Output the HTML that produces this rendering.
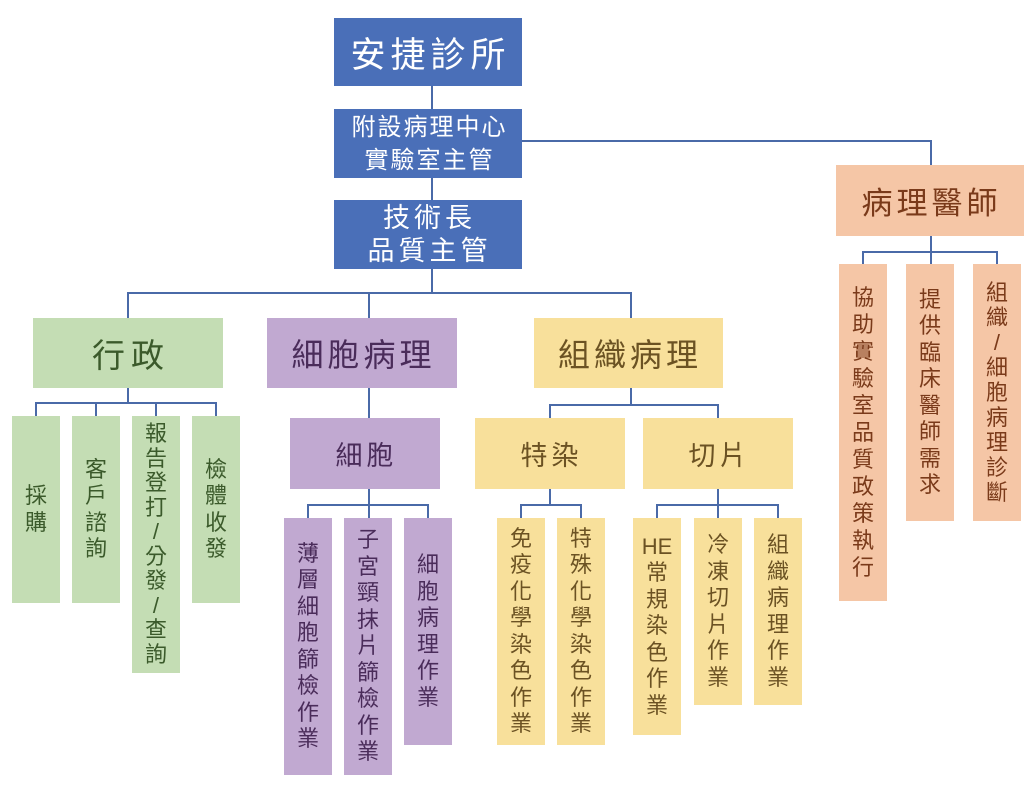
<!DOCTYPE html>
<html><head><meta charset="utf-8"><style>
body{margin:0;width:1032px;height:800px;background:#fff;position:relative;overflow:hidden;font-family:"Liberation Sans","Noto Sans CJK TC",sans-serif}
.b{position:absolute;display:flex;align-items:center;justify-content:center;text-align:center;box-sizing:border-box;letter-spacing:3px;padding-left:3px}
.blue{background:#4a6fb8;color:#fff}
.g{background:#c4ddb4;color:#3b5a2b}
.p{background:#c1a9d1;color:#4a2c5a}
.y{background:#f8e09b;color:#6b5223}
.o{background:#f5c6a6;color:#7a3a1a}
.v{flex-direction:column;font-size:22px;line-height:26.5px;letter-spacing:0;padding-left:0}
.l{position:absolute;background:#4a6aa8}
</style></head><body>
<div class="l" style="left:431px;top:86px;width:2px;height:114px"></div>
<div class="l" style="left:522px;top:140px;width:410px;height:2px"></div>
<div class="l" style="left:930px;top:140px;width:2px;height:25px"></div>
<div class="l" style="left:431px;top:269px;width:2px;height:24px"></div>
<div class="l" style="left:127px;top:292px;width:505px;height:2px"></div>
<div class="l" style="left:127px;top:292px;width:2px;height:26px"></div>
<div class="l" style="left:368px;top:292px;width:2px;height:26px"></div>
<div class="l" style="left:630px;top:292px;width:2px;height:26px"></div>
<div class="l" style="left:127px;top:388px;width:2px;height:15px"></div>
<div class="l" style="left:35px;top:402px;width:182px;height:2px"></div>
<div class="l" style="left:35px;top:402px;width:2px;height:14px"></div>
<div class="l" style="left:95px;top:402px;width:2px;height:14px"></div>
<div class="l" style="left:155px;top:402px;width:2px;height:14px"></div>
<div class="l" style="left:215px;top:402px;width:2px;height:14px"></div>
<div class="l" style="left:368px;top:388px;width:2px;height:30px"></div>
<div class="l" style="left:368px;top:489px;width:2px;height:29px"></div>
<div class="l" style="left:307px;top:504px;width:122px;height:2px"></div>
<div class="l" style="left:307px;top:504px;width:2px;height:14px"></div>
<div class="l" style="left:427px;top:504px;width:2px;height:14px"></div>
<div class="l" style="left:630px;top:388px;width:2px;height:17px"></div>
<div class="l" style="left:549px;top:404px;width:170px;height:2px"></div>
<div class="l" style="left:549px;top:404px;width:2px;height:14px"></div>
<div class="l" style="left:717px;top:404px;width:2px;height:14px"></div>
<div class="l" style="left:549px;top:489px;width:2px;height:16px"></div>
<div class="l" style="left:520px;top:504px;width:62px;height:2px"></div>
<div class="l" style="left:520px;top:504px;width:2px;height:14px"></div>
<div class="l" style="left:580px;top:504px;width:2px;height:14px"></div>
<div class="l" style="left:717px;top:489px;width:2px;height:29px"></div>
<div class="l" style="left:656px;top:504px;width:123px;height:2px"></div>
<div class="l" style="left:656px;top:504px;width:2px;height:14px"></div>
<div class="l" style="left:777px;top:504px;width:2px;height:14px"></div>
<div class="l" style="left:930px;top:236px;width:2px;height:16px"></div>
<div class="l" style="left:862px;top:251px;width:136px;height:2px"></div>
<div class="l" style="left:862px;top:251px;width:2px;height:13px"></div>
<div class="l" style="left:930px;top:251px;width:2px;height:13px"></div>
<div class="l" style="left:996px;top:251px;width:2px;height:13px"></div>

<div class="b blue" style="left:334px;top:18px;width:188px;height:68px;font-size:35px;letter-spacing:5px;padding-left:5px">安捷診所</div>
<div class="b blue" style="left:334px;top:109px;width:188px;height:69px;font-size:24px;line-height:33px;letter-spacing:2px">附設病理中心<br>實驗室主管</div>
<div class="b blue" style="left:334px;top:200px;width:188px;height:69px;font-size:27px;line-height:33px;letter-spacing:4px">技術長<br>品質主管</div>
<div class="b o" style="left:836px;top:165px;width:188px;height:71px;font-size:31px;letter-spacing:4px">病理醫師</div>
<div class="b g" style="left:33px;top:318px;width:190px;height:70px;font-size:33px;letter-spacing:6px;padding-left:6px">行政</div>
<div class="b p" style="left:267px;top:318px;width:190px;height:70px;font-size:32px;letter-spacing:4px">細胞病理</div>
<div class="b y" style="left:534px;top:318px;width:189px;height:70px;font-size:32px;letter-spacing:4px">組織病理</div>
<div class="b p" style="left:290px;top:418px;width:150px;height:71px;font-size:27px;letter-spacing:4px">細胞</div>
<div class="b y" style="left:475px;top:418px;width:150px;height:71px;font-size:27px;letter-spacing:4px">特染</div>
<div class="b y" style="left:643px;top:418px;width:150px;height:71px;font-size:27px;letter-spacing:4px">切片</div>

<div class="b g v" style="left:12px;top:416px;width:48px;height:187px">採<br>購</div>
<div class="b g v" style="left:72px;top:416px;width:48px;height:187px">客<br>戶<br>諮<br>詢</div>
<div class="b g v" style="left:132px;top:416px;width:48px;height:257px;line-height:24.5px">報<br>告<br>登<br>打<br>/<br>分<br>發<br>/<br>查<br>詢</div>
<div class="b g v" style="left:192px;top:416px;width:48px;height:187px">檢<br>體<br>收<br>發</div>
<div class="b p v" style="left:284px;top:518px;width:48px;height:257px">薄<br>層<br>細<br>胞<br>篩<br>檢<br>作<br>業</div>
<div class="b p v" style="left:344px;top:518px;width:48px;height:257px">子<br>宮<br>頸<br>抹<br>片<br>篩<br>檢<br>作<br>業</div>
<div class="b p v" style="left:404px;top:518px;width:48px;height:227px">細<br>胞<br>病<br>理<br>作<br>業</div>
<div class="b y v" style="left:497px;top:518px;width:48px;height:227px">免<br>疫<br>化<br>學<br>染<br>色<br>作<br>業</div>
<div class="b y v" style="left:557px;top:518px;width:48px;height:227px">特<br>殊<br>化<br>學<br>染<br>色<br>作<br>業</div>
<div class="b y v" style="left:633px;top:518px;width:48px;height:217px">HE<br>常<br>規<br>染<br>色<br>作<br>業</div>
<div class="b y v" style="left:694px;top:518px;width:48px;height:187px">冷<br>凍<br>切<br>片<br>作<br>業</div>
<div class="b y v" style="left:754px;top:518px;width:48px;height:187px">組<br>織<br>病<br>理<br>作<br>業</div>
<div class="b o v" style="left:839px;top:264px;width:48px;height:337px;line-height:27px">協<br>助<br>實<br>驗<br>室<br>品<br>質<br>政<br>策<br>執<br>行</div>
<div class="b o v" style="left:906px;top:264px;width:48px;height:257px">提<br>供<br>臨<br>床<br>醫<br>師<br>需<br>求</div>
<div class="b o v" style="left:973px;top:264px;width:48px;height:257px;line-height:25px">組<br>織<br>/<br>細<br>胞<br>病<br>理<br>診<br>斷</div>
</body></html>
